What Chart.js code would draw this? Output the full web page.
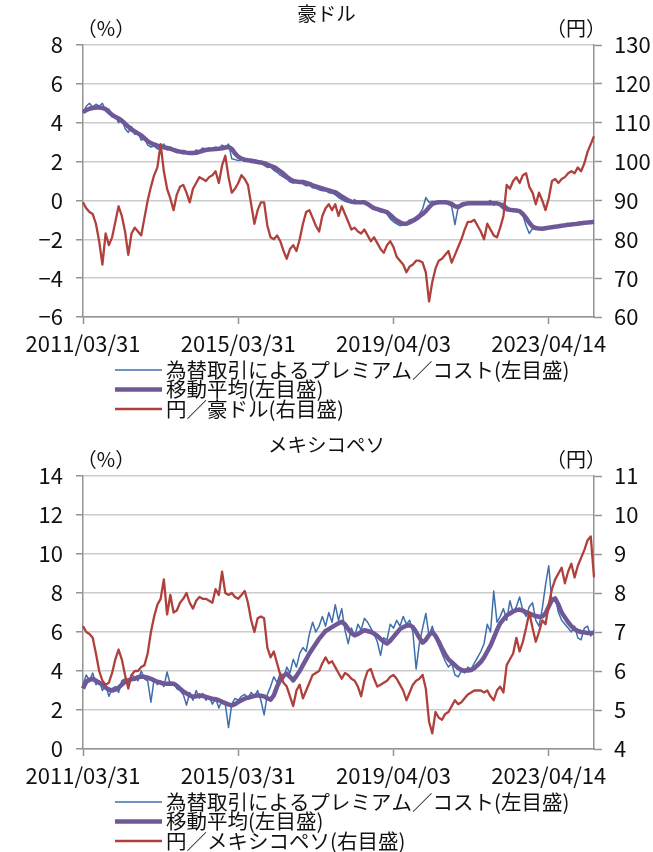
<!DOCTYPE html>
<html>
<head>
<meta charset="utf-8">
<script src="https://cdn.jsdelivr.net/npm/chart.js@4.4.1/dist/chart.umd.min.js"></script>
<style>
	html, body { margin: 0; padding: 0; background: #fff; overflow: hidden; }
	canvas { position: absolute; left: 0; }
</style>
</head>
<body>
<canvas id="audChart" width="653" height="426" style="top:0"></canvas>
<canvas id="mxnChart" width="653" height="421" style="top:431px"></canvas>
<script>
// monthly samples, 2011/03 .. 2024/05 (159 points)
var tickLabels = ['2011/03/31', '2015/03/31', '2019/04/03', '2023/04/14'];
var tickIndex = [0, 48, 96, 144];

var months = [];
for (var i = 0; i < 159; i++) {
	var m = 2 + i;
	months.push((2011 + Math.floor(m / 12)) + '/' + String(m % 12 + 1).padStart(2, '0'));
}

// 豪ドル
var audPremium = [
	4.5, 4.85, 5.0, 4.8, 4.95, 4.85, 5.0, 4.6, 4.7, 4.3,
	4.35, 4.0, 4.2, 3.7, 3.5, 3.8, 3.4, 3.5, 3.1, 3.2,
	2.85, 2.75, 2.8, 2.65, 2.7, 2.9, 2.6, 2.75, 2.55, 2.45,
	2.5, 2.4, 2.45, 2.5, 2.42, 2.6, 2.55, 2.7, 2.62, 2.7,
	2.6, 2.75, 2.68, 2.85, 2.75, 2.9, 2.15, 2.1, 2.05, 2.1,
	2.0, 2.05, 1.95, 1.95, 1.9, 1.92, 1.8, 1.7, 1.72, 1.55,
	1.45, 1.3, 1.2, 1.1, 0.95, 0.9, 0.95, 0.92, 0.85, 0.75,
	0.78, 0.65, 0.62, 0.55, 0.5, 0.52, 0.4, 0.38, 0.3, 0.15,
	0.05, -0.05, -0.1, -0.12, 0.05, -0.15, -0.1, -0.12, -0.25, -0.3,
	-0.45, -0.5, -0.6, -0.55, -0.7, -0.95, -1.1, -1.2, -1.3, -1.25,
	-1.15, -1.0, -0.95, -0.85, -0.7, -0.45, 0.15, -0.1, -0.05, -0.08,
	-0.1, -0.05, -0.1, -0.2, -0.3, -1.25, -0.35, -0.15, -0.12, -0.1,
	-0.15, -0.18, -0.12, -0.15, -0.2, -0.1, 0.0, -0.25, -0.15, -0.2,
	-0.15, -0.3, -0.45, -0.5, -0.55, -0.6, -0.75, -1.3, -1.7, -1.45,
	-1.5, -1.4, -1.45, -1.35, -1.4, -1.3, -1.35, -1.3, -1.25, -1.25,
	-1.2, -1.18, -1.15, -1.15, -1.1, -1.12, -1.1, -1.08, -1.05
];
var audAverage = [
	4.55, 4.65, 4.72, 4.76, 4.78, 4.78, 4.76, 4.7, 4.55, 4.4,
	4.3, 4.22, 4.1, 3.95, 3.8, 3.65, 3.55, 3.45, 3.35, 3.2,
	3.05, 2.95, 2.88, 2.82, 2.78, 2.74, 2.7, 2.66, 2.6, 2.55,
	2.51, 2.49, 2.46, 2.44, 2.44, 2.45, 2.5, 2.55, 2.6, 2.62,
	2.63, 2.65, 2.66, 2.68, 2.72, 2.75, 2.65, 2.42, 2.25, 2.15,
	2.1, 2.07, 2.05, 2.02, 1.98, 1.95, 1.92, 1.85, 1.78, 1.72,
	1.62, 1.5, 1.37, 1.22, 1.1, 1.0, 0.97, 0.95, 0.95, 0.9,
	0.85, 0.78, 0.72, 0.67, 0.62, 0.56, 0.52, 0.46, 0.42, 0.32,
	0.2, 0.1, 0.0, -0.06, -0.09, -0.09, -0.1, -0.1, -0.18, -0.3,
	-0.4, -0.45, -0.5, -0.55, -0.6, -0.75, -0.9, -1.03, -1.12, -1.2,
	-1.2, -1.13, -1.05, -0.95, -0.82, -0.7, -0.55, -0.35, -0.18, -0.12,
	-0.09, -0.09, -0.09, -0.12, -0.18, -0.3, -0.34, -0.25, -0.18, -0.15,
	-0.14, -0.14, -0.14, -0.15, -0.15, -0.15, -0.15, -0.15, -0.15, -0.2,
	-0.35, -0.45, -0.48, -0.5, -0.52, -0.55, -0.7, -0.9, -1.15, -1.35,
	-1.42, -1.45, -1.46, -1.43, -1.4, -1.38, -1.35, -1.33, -1.3, -1.28,
	-1.25, -1.24, -1.22, -1.2, -1.18, -1.15, -1.14, -1.12, -1.1
];
var audYen = [
	89.5, 88.0, 87.0, 86.5, 84.0, 79.5, 73.5, 81.5, 78.5, 80.5,
	84.5, 88.5, 86.0, 82.0, 76.0, 81.5, 83.0, 82.0, 81.0, 85.5,
	90.0, 93.5, 96.5, 98.5, 104.5, 97.5, 93.0, 90.5, 87.5, 91.5,
	93.5, 94.0, 92.0, 89.5, 93.0, 94.5, 96.0, 95.5, 95.0, 96.0,
	96.5, 97.5, 94.5, 99.0, 101.5, 96.0, 92.0, 93.0, 94.5, 96.5,
	95.5, 94.0, 89.0, 84.0, 87.5, 89.5, 89.5, 83.5, 80.5, 80.0,
	81.0, 79.5, 77.0, 75.0, 77.5, 78.5, 77.0, 80.0, 84.0, 87.0,
	87.5, 85.5, 83.5, 82.0, 86.0, 88.0, 89.0, 87.5, 89.0, 86.0,
	88.5, 86.5, 84.5, 82.5, 83.0, 82.0, 81.5, 82.5, 81.0, 79.5,
	80.5, 79.0, 77.5, 76.5, 78.5, 79.5, 78.0, 75.5, 74.5, 73.5,
	71.5, 73.0, 73.5, 74.5, 74.5, 74.0, 71.5, 64.0, 69.0, 72.5,
	74.5, 75.0, 76.0, 77.0, 74.0, 76.0, 78.0, 80.0, 82.5, 84.5,
	84.5, 85.0, 83.5, 82.0, 80.0, 84.0, 82.5, 81.0, 80.5, 83.0,
	86.0, 94.0, 93.0, 95.0, 96.0, 94.5, 96.5, 97.0, 93.5, 92.0,
	89.0, 92.0, 90.0, 87.5, 90.5, 95.0, 95.5, 94.5, 95.5, 96.0,
	97.0, 97.5, 97.0, 98.5, 97.5, 99.5, 102.5, 104.5, 106.5
];

// メキシコペソ
var mxnPremium = [
	3.3, 3.8, 3.5, 3.9, 3.3, 3.5, 3.0, 3.3, 2.7, 3.1,
	3.2, 2.9, 3.5, 3.6, 3.4, 3.8, 3.7, 3.5, 4.0, 3.6,
	3.5, 2.4, 3.6, 3.3, 3.5, 3.2, 3.95, 3.3, 3.4, 3.1,
	3.0, 2.8, 2.25, 2.9, 2.5, 3.0, 2.6, 2.85, 2.5, 2.7,
	2.3, 2.6, 2.1, 2.5, 2.3, 1.1, 2.3, 2.6, 2.5, 2.7,
	2.8, 2.6, 2.9, 2.7, 3.0, 2.5, 1.75, 2.8, 3.2, 3.7,
	3.4, 3.9, 3.6, 4.2, 3.9, 4.6, 4.2, 4.9, 5.2, 5.0,
	5.9, 6.5, 6.0, 6.3, 6.8, 6.3, 7.0, 6.5, 7.4, 6.6,
	7.2, 6.1, 5.4, 6.2, 5.8, 6.4, 6.1, 6.7, 6.5, 6.2,
	5.9, 5.5, 4.8, 5.7, 5.6, 6.4, 6.2, 6.6, 6.3, 6.8,
	6.4, 6.6, 6.0, 4.1, 5.4, 6.2, 6.95, 5.8, 6.3, 5.7,
	5.3, 4.9, 4.5, 4.2, 4.4, 3.8, 3.7, 4.0, 3.9, 4.2,
	4.1, 4.4, 4.7, 5.0, 5.4, 6.4, 6.0, 8.1, 6.5, 6.8,
	7.2, 6.6, 7.6, 7.0, 7.3, 7.8, 7.1, 6.8, 7.3, 7.5,
	6.6, 6.3, 7.2, 8.4, 9.4, 7.5, 7.8, 7.0, 6.6, 6.4,
	6.2, 6.0, 6.3, 5.7, 5.6, 6.2, 6.3, 5.8, 6.1
];
var mxnAverage = [
	3.1, 3.45, 3.55, 3.6, 3.5, 3.4, 3.3, 3.15, 3.05, 3.0,
	3.05, 3.15, 3.3, 3.45, 3.52, 3.58, 3.6, 3.68, 3.72, 3.7,
	3.66, 3.6, 3.52, 3.45, 3.4, 3.36, 3.35, 3.36, 3.35, 3.25,
	3.1, 2.95, 2.85, 2.75, 2.68, 2.7, 2.75, 2.72, 2.67, 2.62,
	2.58, 2.55, 2.5, 2.42, 2.35, 2.28, 2.24, 2.3, 2.41, 2.5,
	2.58, 2.63, 2.67, 2.72, 2.75, 2.73, 2.7, 2.6, 2.53, 2.75,
	3.2, 3.55, 3.75, 3.87, 3.7, 3.52, 3.75, 4.0, 4.3, 4.6,
	4.9, 5.15, 5.4, 5.65, 5.85, 6.05, 6.15, 6.25, 6.35, 6.45,
	6.52, 6.4, 6.15, 5.95, 5.83, 5.9, 6.0, 6.09, 6.05, 6.0,
	5.92, 5.8, 5.65, 5.5, 5.41, 5.55, 5.75, 5.95, 6.15, 6.25,
	6.32, 6.35, 6.25, 6.0, 5.7, 5.45, 5.6, 5.85, 6.0, 5.8,
	5.5, 5.15, 4.85, 4.6, 4.45, 4.3, 4.15, 4.05, 4.02, 4.02,
	4.05, 4.15, 4.3, 4.47, 4.7, 5.0, 5.3, 5.7, 6.1, 6.45,
	6.65, 6.85, 6.95, 7.05, 7.12, 7.15, 7.1, 7.0, 6.95, 6.88,
	6.82, 6.78, 6.8, 6.95, 7.3, 7.65, 7.72, 7.4, 7.0, 6.75,
	6.5, 6.3, 6.15, 6.05, 6.0, 5.98, 5.95, 5.95, 5.95
];
var mxnYen = [
	7.15, 7.0, 6.95, 6.85, 6.45, 6.0, 5.75, 5.65, 5.7, 5.95,
	6.3, 6.55, 6.3, 5.9, 5.55, 5.9, 6.0, 6.0, 6.1, 6.15,
	6.45, 7.0, 7.4, 7.7, 7.85, 8.35, 7.45, 7.95, 7.5, 7.55,
	7.75, 7.85, 8.0, 7.75, 7.6, 7.8, 7.9, 7.85, 7.85, 7.8,
	7.75, 8.1, 7.95, 8.55, 8.0, 7.95, 8.0, 7.9, 7.85, 7.95,
	8.05, 7.75, 7.3, 7.0, 7.35, 7.4, 7.35, 6.6, 6.35, 6.5,
	6.2, 5.9, 5.7, 5.6, 5.35, 5.1, 5.5, 5.65, 5.3, 5.5,
	5.7, 5.9, 5.95, 6.0, 6.2, 6.35, 6.2, 6.25, 6.1, 5.95,
	5.8, 5.95, 5.9, 5.8, 5.75, 5.6, 5.35, 5.75, 6.0, 6.05,
	5.8, 5.6, 5.65, 5.7, 5.75, 5.85, 5.9, 5.8, 5.65, 5.5,
	5.25, 5.45, 5.65, 5.75, 5.8, 5.9, 5.55, 4.7, 4.4, 4.95,
	4.8, 4.75, 4.9, 4.95, 5.1, 5.25, 5.15, 5.2, 5.3, 5.4,
	5.45, 5.5, 5.5, 5.5, 5.45, 5.5, 5.35, 5.25, 5.5, 5.6,
	5.45, 6.15, 6.3, 6.45, 6.85, 6.5, 6.75, 7.1, 7.5, 7.1,
	6.75, 7.0, 7.3, 7.2, 7.7, 8.1, 8.35, 8.5, 8.65, 8.25,
	8.55, 8.75, 8.4, 8.7, 8.9, 9.1, 9.35, 9.45, 8.4
];

var COLORS = {
	blue: '#3e6eac',
	purple: '#6e5897',
	red: '#b0403c',
	grid: '#cccccc',
	axis: '#939393',
	text: '#111111'
};
var FONT = '"Noto Sans CJK JP", "Noto Sans", sans-serif';

Chart.defaults.font.family = FONT;
Chart.defaults.color = COLORS.text;

// title, unit labels and the one-item-per-row legend
var overlayPlugin = {
	id: 'overlay',
	afterDraw: function (chart, args, opts) {
		var ctx = chart.ctx;
		var a = chart.chartArea;
		ctx.save();
		ctx.fillStyle = COLORS.text;
		ctx.textBaseline = 'middle';
		ctx.textAlign = 'center';
		ctx.font = '19.5px ' + FONT;
		ctx.fillText(opts.title, chart.width / 2, a.top - 31);
		ctx.font = '20px ' + FONT;
		ctx.fillText('（%）', 106, a.top - 17);
		ctx.fillText('（円）', 576, a.top - 17);
		ctx.textAlign = 'left';
		ctx.font = '20.5px ' + FONT;
		chart.data.datasets.forEach(function (ds, i) {
			var y = a.bottom + 53 + i * 19.5;
			ctx.strokeStyle = ds.borderColor;
			ctx.lineWidth = ds.borderWidth;
			ctx.beginPath();
			ctx.moveTo(115, y);
			ctx.lineTo(162, y);
			ctx.stroke();
			ctx.fillText(ds.label, 166, y);
		});
		ctx.restore();
	}
};

function makeChart(id, title, premium, average, yen, yenLabel, left, right, axisHeight) {
	var data = {
		labels: months,
		datasets: [{
			label: '為替取引によるプレミアム／コスト(左目盛)',
			data: premium,
			yAxisID: 'y',
			borderColor: COLORS.blue,
			borderWidth: 1.5,
			order: 3
		}, {
			label: '移動平均(左目盛)',
			data: average,
			yAxisID: 'y',
			borderColor: COLORS.purple,
			borderWidth: 4.5,
			order: 2
		}, {
			label: yenLabel,
			data: yen,
			yAxisID: 'y1',
			borderColor: COLORS.red,
			borderWidth: 2.3,
			order: 1
		}]
	};

	var options = {
		responsive: false,
		animation: false,
		layout: {
			padding: { top: 45, left: 0, right: 0, bottom: 0 }
		},
		elements: {
			point: { radius: 0 },
			line: { tension: 0, borderJoinStyle: 'round' }
		},
		scales: {
			x: {
				type: 'category',
				afterFit: function (scale) { scale.height = axisHeight; },
				afterBuildTicks: function (scale) {
					scale.ticks = scale.ticks.filter(function (t) {
						return tickIndex.indexOf(t.value) !== -1;
					});
				},
				ticks: {
					autoSkip: false,
					maxRotation: 0,
					padding: 6,
					font: { size: 22 },
					callback: function (value, index) {
						return tickLabels[index];
					}
				},
				grid: {
					drawOnChartArea: false,
					tickLength: 7,
					tickColor: COLORS.axis,
					tickWidth: 1.5
				},
				border: { color: COLORS.axis, width: 1.5 }
			},
			y: {
				position: 'left',
				min: left[0],
				max: left[1],
				afterFit: function (scale) { scale.width = 83; },
				ticks: {
					stepSize: left[2],
					padding: 13,
					font: { size: 22 },
					callback: function (value) {
						return String(value).replace('-', '−');
					}
				},
				grid: {
					color: COLORS.grid,
					lineWidth: 1.5,
					tickLength: 7,
					tickColor: COLORS.axis
				},
				border: { color: COLORS.axis, width: 1.5 }
			},
			y1: {
				position: 'right',
				min: right[0],
				max: right[1],
				afterFit: function (scale) { scale.width = 59; },
				ticks: {
					stepSize: right[2],
					padding: 12,
					font: { size: 22 }
				},
				grid: {
					drawOnChartArea: false,
					tickLength: 8,
					tickColor: COLORS.axis,
					tickWidth: 1.5
				},
				border: { color: COLORS.axis, width: 1.5 }
			}
		},
		plugins: {
			legend: { display: false },
			title: { display: false },
			tooltip: { enabled: false },
			overlay: { title: title }
		}
	};

	return new Chart(document.getElementById(id), {
		type: 'line',
		data: data,
		options: options,
		plugins: [overlayPlugin]
	});
}

var audChart = makeChart('audChart', '豪ドル', audPremium, audAverage, audYen,
	'円／豪ドル(右目盛)', [-6, 8, 2], [60, 130, 10], 109);

var mxnChart = makeChart('mxnChart', 'メキシコペソ', mxnPremium, mxnAverage, mxnYen,
	'円／メキシコペソ(右目盛)', [0, 14, 2], [4, 11, 1], 103);
</script>
</body>
</html>
